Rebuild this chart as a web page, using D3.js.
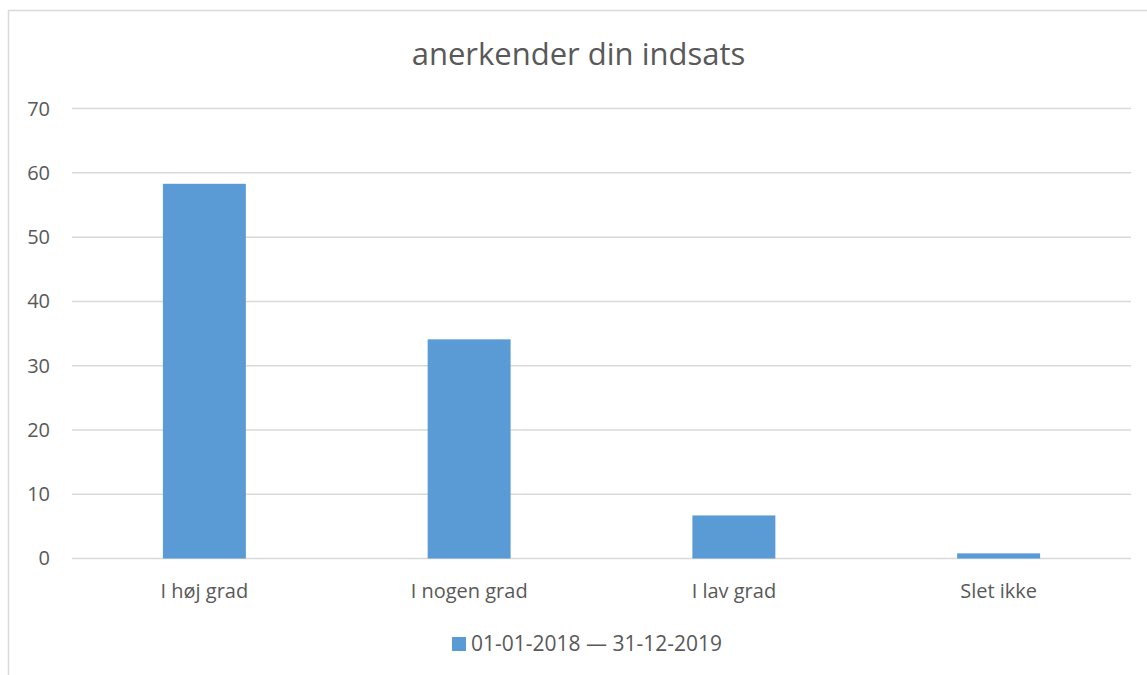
<!DOCTYPE html>
<html><head><meta charset="utf-8">
<script src="https://cdn.jsdelivr.net/npm/d3@7"></script>
<style>body{margin:0;background:#fff}svg{display:block}text{font-family:"Open Sans",sans-serif;fill:#595959}</style>
</head><body>
<svg id="c" width="1147" height="675"></svg>
<script>
const title = "anerkender din indsats";
const categories = ["I høj grad", "I nogen grad", "I lav grad", "Slet ikke"];
const values = [58.3, 34.1, 6.7, 0.8];
const seriesName = "01-01-2018 — 31-12-2019";
const yTicks = [0, 10, 20, 30, 40, 50, 60, 70];

const svg = d3.select("#c");
svg.append("rect").attr("x", 8.5).attr("y", 10.5).attr("width", 1160).attr("height", 700)
  .attr("fill", "#fff").attr("stroke", "#D9D9D9").attr("stroke-width", 1.5);

const L = 72, R = 1131, T = 108.6, B = 558.5;
const x = d3.scaleBand().domain(categories).range([L, R]).paddingInner(0.6866).paddingOuter(0.3433);
const y = d3.scaleLinear().domain([0, 70]).range([B, T]);

const grid = svg.append("g");
grid.selectAll("line").data(yTicks).join("line")
  .attr("x1", L).attr("x2", R).attr("y1", d => y(d)).attr("y2", d => y(d))
  .attr("stroke", "#D9D9D9").attr("stroke-width", 1.5);

const yAxis = svg.append("g").attr("transform", `translate(${L},0)`)
  .call(d3.axisLeft(y).tickValues(yTicks).tickSize(0).tickPadding(22));
yAxis.select(".domain").remove();
yAxis.selectAll("text").style("font-size", "20px").attr("fill", "#595959");

svg.append("g").selectAll("rect").data(values).join("rect")
  .attr("x", (d, i) => x(categories[i])).attr("width", x.bandwidth())
  .attr("y", d => y(d)).attr("height", d => B - y(d))
  .attr("fill", "#5B9BD5");

const xAxis = svg.append("g").attr("transform", `translate(0,${B})`)
  .call(d3.axisBottom(x).tickSize(0).tickPadding(25));
xAxis.select(".domain").remove();
xAxis.selectAll("text").style("font-size", "20px").attr("fill", "#595959");

svg.append("text").attr("x", 578.5).attr("y", 65).attr("text-anchor", "middle")
  .style("font-size", "31px").text(title);

const lg = svg.append("g");
lg.append("rect").attr("x", 452).attr("y", 637).attr("width", 14).attr("height", 14).attr("fill", "#5B9BD5");
lg.append("text").attr("x", 471).attr("y", 651).style("font-size", "21px").text(seriesName);
</script>
</body></html>
